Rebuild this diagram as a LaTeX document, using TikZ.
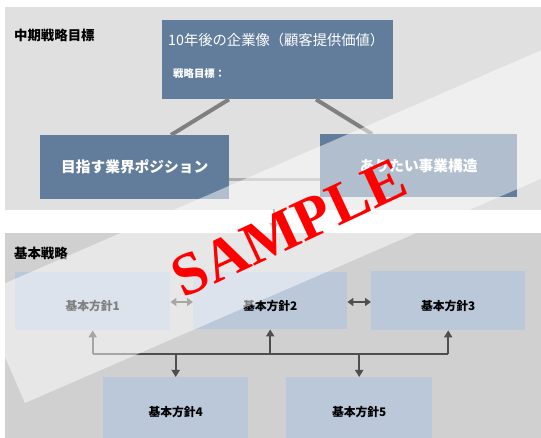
\documentclass[tikz,border=0pt]{standalone}
\usepackage{fontspec}
\setmainfont{Liberation Serif}
\newfontfamily\jp{Noto Sans CJK JP}
\usetikzlibrary{arrows.meta,calc}
\definecolor{topgray}{HTML}{E0E0E0}
\definecolor{botgray}{HTML}{D0D0D0}
\definecolor{boxdark}{HTML}{627D9B}
\definecolor{boxlight}{HTML}{BAC8DA}
\definecolor{linegray}{HTML}{808080}
\definecolor{hgray}{HTML}{ABABAB}
\definecolor{busgray}{HTML}{4E4E4E}
\tikzset{
  darkbox/.style={rectangle, fill=boxdark, inner sep=0pt, anchor=north west},
  lightbox/.style={rectangle, fill=boxlight, inner sep=0pt, anchor=north west},
  boxtext/.style={font=\jp\bfseries\fontsize{14.7}{16}\selectfont, text=white, inner sep=0pt},
  subtext/.style={font=\jp\bfseries\fontsize{11.8}{13}\selectfont, text=black, inner sep=0pt},
  sectitle/.style={font=\jp\bfseries\fontsize{13.4}{15}\selectfont, text=black, inner sep=0pt, anchor=west},
  diag/.style={draw=linegray, line width=4pt},
  hline/.style={draw=hgray, line width=3pt},
  busline/.style={draw=busgray, line width=2.5pt},
  busarrow/.style={draw=busgray, line width=2pt, -{Triangle[length=7pt,width=8pt]}},
  dblarrow/.style={draw=busgray, line width=2.5pt, {Triangle[length=6pt,width=8pt]}-{Triangle[length=6pt,width=8pt]}},
  sample/.style={font=\bfseries\fontsize{60}{60}\selectfont, text=red, inner sep=0pt}
}
\begin{document}
\begin{tikzpicture}[x=1pt,y=-1pt]
\useasboundingbox (0,0) rectangle (541,438);
\clip (0,0) rectangle (541,438);
\fill[white] (0,0) rectangle (541,438);
% panels
\fill[topgray] (5,7) rectangle (545,210);
\fill[botgray] (5,233) rectangle (545,445);
\node[sectitle] (mid) at (14,35) {中期戦略目標};
\node[sectitle] (basic) at (14,253) {基本戦略};
% top boxes
\node[darkbox, minimum width=231pt, minimum height=79pt] (top) at (162,20) {};
\node[font=\jp\fontsize{14.3}{16}\selectfont, text=white, inner sep=0pt, anchor=west] (title) at (168,40) {10年後の企業像（顧客提供価値）};
\node[font=\jp\bfseries\fontsize{10.4}{12}\selectfont, text=white, inner sep=0pt, anchor=west] (goal) at (173,74) {戦略目標：};
\node[darkbox, minimum width=189pt, minimum height=64pt] (lpos) at (40,135) {};
\node[darkbox, minimum width=197pt, minimum height=63pt] (rpos) at (320,134) {};
\node[boxtext] (ltext) at (lpos.center) {目指す業界ポジション};
\node[boxtext] (rtext) at (rpos.center) {ありたい事業構造};
% top connectors
\draw[diag] ([xshift=67pt]top.south west) -- ([xshift=131pt]lpos.north west);
\draw[diag] ([xshift=154pt]top.south west) -- ([xshift=52pt]rpos.north west);
\draw[hline] ([yshift=-45pt]lpos.north east) coordinate (hl) -- (hl -| rpos.west);
\coordinate (da1) at (274,209);
\coordinate (da2) at (274,230);
\draw[draw=gray, line width=2.5pt, -{Triangle[length=7pt,width=9pt]}] (da1) -- (da2);
% bottom boxes
\node[lightbox, minimum width=155pt, minimum height=58pt] (b1) at (15,272) {};
\node[lightbox, minimum width=154pt, minimum height=57pt] (b2) at (193,272) {};
\node[lightbox, minimum width=154pt, minimum height=59pt] (b3) at (371,271) {};
\node[lightbox, minimum width=145pt, minimum height=70pt] (b4) at (103,377) {};
\node[lightbox, minimum width=146pt, minimum height=70pt] (b5) at (286,377) {};
\node[subtext] (t1) at ([yshift=-5pt]b1.center) {基本方針1};
\node[subtext] (t2) at ([yshift=-5pt]b2.center) {基本方針2};
\node[subtext] (t3) at ([yshift=-5pt]b3.center) {基本方針3};
\node[subtext] (t4) at ([yshift=-35pt]b4.north) {基本方針4};
\node[subtext] (t5) at ([yshift=-35pt]b5.north) {基本方針5};
% arrows between policies
\draw[dblarrow] ([yshift=-30pt]b1.north east) coordinate (d1) -- (d1 -| b2.west);
\draw[dblarrow] ([yshift=-30pt]b2.north east) coordinate (d2) -- (d2 -| b3.west);
% bus
\coordinate (busy) at (0,354);
\draw[busline] (b1.south |- busy) -- (b3.south |- busy);
\draw[busarrow] (b1.south |- busy) -- (b1.south);
\draw[busarrow] (b2.south |- busy) -- (b2.south);
\draw[busarrow] (b3.south |- busy) -- (b3.south);
\draw[busarrow] (b4.north |- busy) -- (b4.north);
\draw[busarrow] (b5.north |- busy) -- (b5.north);
% watermark band
\fill[white, opacity=0.5] (25,403) -- (667,124) -- (620,16) -- (-22,295) -- cycle;
% sample text
\node[sample, rotate=25] (smp) at (289,228) {SAMPLE};
\end{tikzpicture}
\end{document}
